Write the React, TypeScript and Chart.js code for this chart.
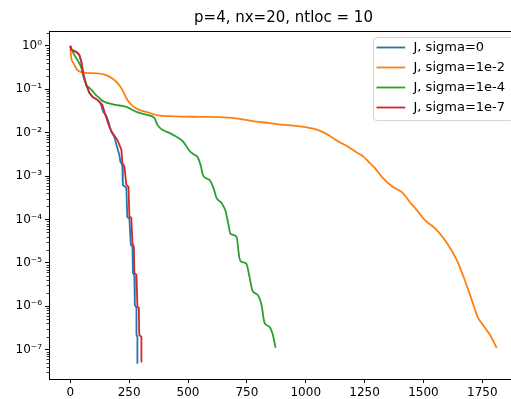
import React, { useEffect, useRef } from "react";
import { Chart, registerables } from "chart.js";

Chart.register(...registerables);

const TITLE = "p=4, nx=20, ntloc = 10";
const seriesLabels = ["J, sigma=0", "J, sigma=1e-2", "J, sigma=1e-4", "J, sigma=1e-7"];
const seriesColors = ["#1f77b4", "#ff7f0e", "#2ca02c", "#d62728"];

const blueIter = [0, 4, 25, 38, 47, 55, 68, 81, 94, 115, 128, 140, 153, 162, 174, 187, 196, 208, 213, 221, 223, 238, 242, 251, 257, 264, 266, 272, 274, 281, 281, 285, 285];
const blueRes = [1.0, 0.809, 0.728, 0.621, 0.428, 0.226, 0.126, 0.0826, 0.0668, 0.057, 0.0486, 0.0301, 0.0244, 0.0177, 0.0104, 0.008, 0.00524, 0.00308, 0.00212, 0.00181, 6.27e-4, 5.35e-4, 1.15e-4, 1.03e-4, 2.6e-5, 2.34e-5, 5.89e-6, 5.01e-6, 1.08e-6, 9.18e-7, 2.19e-7, 1.97e-7, 4.71e-8];

const orangeIter = [0, 4, 13, 26, 43, 64, 115, 149, 174, 200, 221, 242, 264, 293, 336, 370, 442, 548, 655, 719, 782, 846, 910, 974, 1037, 1080, 1127, 1173, 1212, 1246, 1271, 1293, 1327, 1369, 1412, 1441, 1471, 1505, 1556, 1599, 1641, 1675, 1709, 1730, 1752, 1782, 1811];
const orangeRes = [1.0, 0.53, 0.406, 0.295, 0.252, 0.239, 0.232, 0.215, 0.183, 0.14, 0.0968, 0.057, 0.0415, 0.0335, 0.0286, 0.0251, 0.0238, 0.0231, 0.0225, 0.0208, 0.0182, 0.0166, 0.0151, 0.014, 0.0122, 0.00989, 0.00682, 0.00497, 0.00361, 0.00277, 0.00201, 0.00155, 9.1e-4, 5.64e-4, 4.1e-4, 2.55e-4, 1.66e-4, 9.79e-5, 5.75e-5, 2.89e-5, 1.17e-5, 4.06e-6, 1.2e-6, 5.7e-7, 3.72e-7, 2.19e-7, 1.1e-7];

const greenIter = [0, 9, 17, 30, 47, 55, 68, 81, 94, 108, 123, 136, 157, 191, 238, 281, 323, 357, 370, 391, 421, 451, 480, 506, 527, 540, 553, 565, 591, 608, 621, 642, 659, 672, 680, 706, 718, 727, 748, 761, 774, 795, 812, 825, 846, 859, 872];
const greenRes = [1.0, 0.767, 0.621, 0.475, 0.311, 0.204, 0.126, 0.108, 0.0918, 0.0743, 0.0634, 0.0541, 0.0486, 0.0438, 0.0393, 0.0301, 0.0257, 0.0219, 0.0151, 0.0116, 0.00989, 0.008, 0.00614, 0.00381, 0.00308, 0.00277, 0.00181, 0.00101, 8.17e-4, 5.35e-4, 3.15e-4, 2.41e-4, 1.58e-4, 7.52e-5, 4.66e-5, 3.97e-5, 1.3e-5, 1.05e-5, 9.48e-6, 4.75e-6, 2.26e-6, 1.83e-6, 1.08e-6, 4.15e-7, 3.35e-7, 2.31e-7, 1.1e-7];

const redIter = [0, 4, 25, 38, 47, 55, 68, 81, 94, 115, 136, 145, 153, 166, 179, 200, 217, 221, 230, 238, 247, 251, 259, 264, 270, 272, 281, 285, 291, 293, 302, 302];
const redRes = [1.0, 0.809, 0.728, 0.621, 0.428, 0.226, 0.126, 0.0826, 0.0668, 0.057, 0.0438, 0.0301, 0.0219, 0.0136, 0.00989, 0.00682, 0.00402, 0.00201, 0.00163, 6.27e-4, 5.64e-4, 1.15e-4, 1.09e-4, 2.89e-5, 2.34e-5, 5.89e-6, 5.3e-6, 9.68e-7, 9.18e-7, 2.19e-7, 1.97e-7, 5.01e-8];

const xTicks = [0, 250, 500, 750, 1000, 1250, 1500, 1750];
const yMajorTicks = [1e-7, 1e-6, 1e-5, 1e-4, 1e-3, 1e-2, 1e-1, 1];
const yMajorLabels = ["10⁻⁷", "10⁻⁶", "10⁻⁵", "10⁻⁴", "10⁻³", "10⁻²", "10⁻¹", "10⁰"];
const yMinorMultipliers = [2, 3, 4, 5, 6, 7, 8, 9];

const X_MIN = -90.5;
const X_MAX = 1901.5;
const Y_MIN = 2.1e-8;
const Y_MAX = 2.2;

const FONT = "'DejaVu Sans', sans-serif";

function pts(xs: number[], ys: number[]) {
  return xs.map((x, i) => ({ x, y: ys[i] }));
}

const decorPlugin = {
  id: "mplDecor",
  afterDraw(chart: any) {
    const { ctx, chartArea } = chart;
    const yScale = chart.scales.y;
    ctx.save();
    // top spine (right spine lies outside the visible window)
    ctx.strokeStyle = "#000";
    ctx.lineWidth = 1;
    ctx.beginPath();
    const t = Math.round(chartArea.top) + 0.5;
    const l = Math.round(chartArea.left) + 0.5;
    const r = Math.round(chartArea.right) + 0.5;
    ctx.moveTo(l, t);
    ctx.lineTo(r, t);
    ctx.stroke();
    // minor ticks on log axis
    ctx.lineWidth = 0.8;
    ctx.beginPath();
    yMajorTicks.concat([1e-8]).forEach((base) => {
      yMinorMultipliers.forEach((m) => {
        const v = base * m;
        if (v < Y_MIN || v > Y_MAX) return;
        const py = Math.round(yScale.getPixelForValue(v)) + 0.5;
        ctx.moveTo(chartArea.left - 2.4, py);
        ctx.lineTo(chartArea.left, py);
      });
    });
    ctx.stroke();

    // legend
    const fontSize = 13;
    ctx.font = `${fontSize}px ${FONT}`;
    const labels: string[] = chart.data.datasets.map((d: any) => d.label);
    const maxW = Math.max(...labels.map((s) => ctx.measureText(s).width));
    const boxRight = chartArea.right - 5;
    const textX = boxRight - 8 - maxW;
    const lineEnd = textX - 8.3;
    const lineStart = lineEnd - 28.7;
    const boxLeft = Math.round(lineStart - 3.3) + 0.5;
    const boxTop = Math.round(chartArea.top + 6) + 0.5;
    const boxW = boxRight - boxLeft;
    const boxH = 83;
    const rad = 3;
    ctx.beginPath();
    ctx.moveTo(boxLeft + rad, boxTop);
    ctx.lineTo(boxLeft + boxW - rad, boxTop);
    ctx.arcTo(boxLeft + boxW, boxTop, boxLeft + boxW, boxTop + rad, rad);
    ctx.lineTo(boxLeft + boxW, boxTop + boxH - rad);
    ctx.arcTo(boxLeft + boxW, boxTop + boxH, boxLeft + boxW - rad, boxTop + boxH, rad);
    ctx.lineTo(boxLeft + rad, boxTop + boxH);
    ctx.arcTo(boxLeft, boxTop + boxH, boxLeft, boxTop + boxH - rad, rad);
    ctx.lineTo(boxLeft, boxTop + rad);
    ctx.arcTo(boxLeft, boxTop, boxLeft + rad, boxTop, rad);
    ctx.closePath();
    ctx.fillStyle = "rgba(255,255,255,0.8)";
    ctx.fill();
    ctx.strokeStyle = "rgba(204,204,204,0.8)";
    ctx.lineWidth = 1;
    ctx.stroke();
    chart.data.datasets.forEach((d: any, i: number) => {
      const y = boxTop + 10 + i * 20;
      ctx.strokeStyle = d.borderColor;
      ctx.lineWidth = 1.8;
      ctx.beginPath();
      ctx.moveTo(lineStart, y);
      ctx.lineTo(lineEnd, y);
      ctx.stroke();
      ctx.fillStyle = "#000";
      ctx.textBaseline = "middle";
      ctx.textAlign = "left";
      ctx.fillText(d.label, textX, y);
    });
    ctx.restore();
  },
};

export default function App() {
  const ref = useRef<HTMLCanvasElement | null>(null);

  useEffect(() => {
    document.body.style.margin = "0";
    const canvas = ref.current;
    if (!canvas) return;
    const seriesIters = [blueIter, orangeIter, greenIter, redIter];
    const seriesRes = [blueRes, orangeRes, greenRes, redRes];
    const orders = [3, 2, 1, 0];
    const chart = new Chart(canvas, {
      type: "line",
      data: {
        datasets: seriesLabels.map((label, i) => ({
          label,
          data: pts(seriesIters[i], seriesRes[i]),
          borderColor: seriesColors[i],
          backgroundColor: seriesColors[i],
          borderWidth: 1.8,
          pointRadius: 0,
          fill: false,
          order: orders[i],
          tension: 0,
          cubicInterpolationMode: i === 1 || i === 2 ? "monotone" : "default",
        })),
      },
      options: {
        responsive: false,
        animation: false,
        events: [],
        devicePixelRatio: 1,
        layout: { padding: { left: 0, right: 12, top: 0, bottom: 0 } },
        plugins: {
          legend: { display: false },
          tooltip: { enabled: false },
          title: {
            display: true,
            text: TITLE,
            fullSize: false,
            color: "#000",
            font: { family: FONT, size: 15, weight: "normal", lineHeight: 1.2 },
            padding: { top: 9.5, bottom: 3.5 },
          },
        },
        scales: {
          x: {
            type: "linear",
            min: X_MIN,
            max: X_MAX,
            bounds: "data",
            afterBuildTicks: (scale: any) => {
              scale.ticks = xTicks.map((v) => ({ value: v }));
            },
            afterFit: (scale: any) => {
              scale.height = 20;
            },
            grid: {
              drawOnChartArea: false,
              drawTicks: true,
              tickLength: 4,
              tickColor: "#000",
              tickWidth: 1,
            },
            border: { display: true, color: "#000", width: 1 },
            ticks: {
              autoSkip: false,
              maxRotation: 0,
              color: "#000",
              padding: 3,
              font: { family: FONT, size: 12 },
              callback: (v: any) => String(v),
            },
          },
          y: {
            type: "logarithmic",
            min: Y_MIN,
            max: Y_MAX,
            bounds: "data",
            afterBuildTicks: (scale: any) => {
              scale.ticks = yMajorTicks.map((v) => ({ value: v, major: true }));
            },
            afterFit: (scale: any) => {
              scale.width = 49;
            },
            grid: {
              drawOnChartArea: false,
              drawTicks: true,
              tickLength: 4,
              tickColor: "#000",
              tickWidth: 1,
            },
            border: { display: true, color: "#000", width: 1 },
            ticks: {
              autoSkip: false,
              color: "#000",
              padding: 3,
              font: { family: FONT, size: 12 },
              callback: (_v: any, index: number) => yMajorLabels[index],
            },
          },
        },
      },
      plugins: [decorPlugin],
    } as any);
    return () => chart.destroy();
  }, []);

  return (
    <div style={{ width: 511, height: 399, overflow: "hidden", position: "relative" }}>
      <canvas ref={ref} width={530} height={399} style={{ display: "block" }} />
    </div>
  );
}
